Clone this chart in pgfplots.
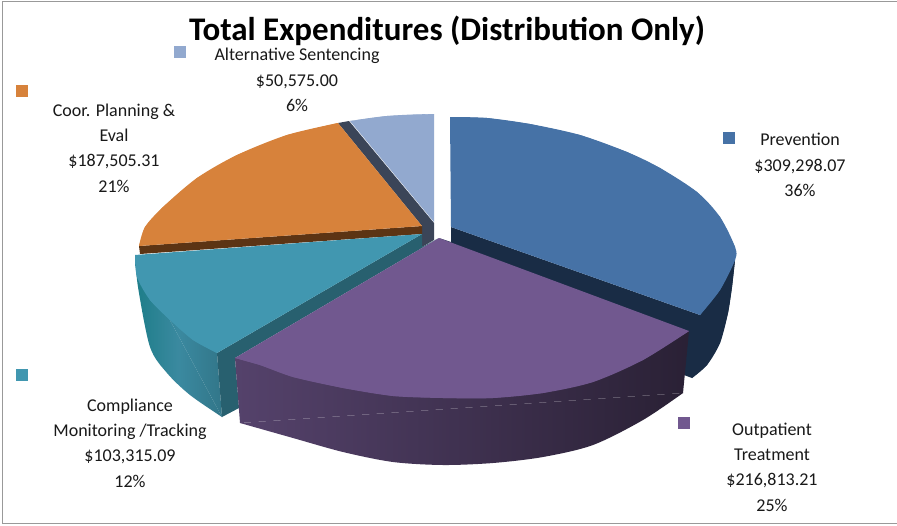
\documentclass[border=0pt]{standalone}
\usepackage{pgfplots}
\pgfplotsset{compat=1.18}
\usepackage{fontspec}
\setmainfont{Carlito}
\definecolor{cblue}{HTML}{4672A6}
\definecolor{dblue}{HTML}{192C45}
\definecolor{cpurple}{HTML}{71588F}
\definecolor{cteal}{HTML}{4197B0}
\definecolor{dteal}{HTML}{28606F}
\definecolor{corange}{HTML}{D7823B}
\definecolor{dorange}{HTML}{5C3414}
\definecolor{clight}{HTML}{92A9CF}
\definecolor{dlight}{HTML}{3B4558}
\begin{document}
\begin{tikzpicture}
\begin{axis}[width=897pt,height=525pt,scale only axis,axis lines=none,
  xmin=0,xmax=897,ymin=0,ymax=525,y dir=reverse,clip=true,
  every axis plot/.append style={line width=0pt,draw=none,mark=none}]
% frame
\addplot[fill=white] coordinates {(0,0)(897,0)(897,525)(0,525)} --cycle;
\addplot[draw=gray!80,line width=1pt] coordinates {(897,1.5)(2.5,1.5)(2.5,523.5)(897,523.5)};
% light blue slice
\addplot[fill=dlight] coordinates {(349,121)(434,223)(434,240)(422,247)(422,226)(338,123)} --cycle;
\addplot[fill=clight] coordinates {(350,121)(387,116)(434,114)(434,222)} --cycle;
\addplot[fill=clight,smooth] coordinates {(350,121)(370,118)(387,116)(410,114.6)(434,114)};
% orange slice
\addplot[fill=dorange] coordinates {(139,246)(422,226)(422,234)(140,254)} --cycle;
\addplot[fill=corange] coordinates {(422,226)(338,123)(287,135)(237,155)(197,178)(163,207)(145,227)(139,246)} --cycle;
\addplot[fill=corange,smooth] coordinates {(338,123)(287,135)(237,155)(197,178)(163,207)(145,227)(139,246)};
% teal slice
\addplot[left color=teal!50!cteal!90!black,right color=dteal!60!cteal,middle color=dteal!25!cteal] coordinates {(135,255)(217,353)(222,417)} --cycle;
\addplot[left color=teal!50!cteal!90!black,right color=dteal!60!cteal,middle color=dteal!25!cteal,smooth] coordinates {(135,255)(138,287)(150,347)(167,373)(190,395)(222,417)};
\addplot[fill=dteal] coordinates {(217,353)(222,417)(239,408)(235,358)(439,238)(422,247)(422,234)} --cycle;
\addplot[fill=cteal] coordinates {(422,234)(135,255)(137,277)(150,300)(170,320)(193,340)(217,353)} --cycle;
\addplot[fill=cteal,smooth] coordinates {(135,255)(137,277)(150,300)(170,320)(193,340)(217,353)};
% blue slice
\addplot[fill=dblue] coordinates {(451,227)(451,242)(439,238)(684,375)(692,378)(707,365)(720,343)(728,313)(732,287)(735,260)(700,315)} --cycle;
\addplot[fill=dblue,smooth] coordinates {(735,260)(732,287)(728,313)(720,343)(707,365)(692,378)};
\addplot[fill=cblue] coordinates {(451,227)(450,117)(487,118)(530,124)(580,135)(627,152)(660,168)(697,192)(720,217)(735,247)(735,260)(720,290)(700,315)} --cycle;
\addplot[fill=cblue,smooth] coordinates {(450,117)(487,118)(530,124)(580,135)(627,152)(660,168)(697,192)(720,217)(735,247)(735,260)(720,290)(700,315)};
% purple slice
\addplot[left color=cpurple!75!black,middle color=cpurple!52!black,right color=cpurple!37!black] coordinates {(235,358)(689,331)(683,393)(240,423)} --cycle;
\addplot[left color=cpurple!75!black,middle color=cpurple!52!black,right color=cpurple!37!black,smooth] coordinates {(240,423)(293,438)(343,452)(393,462)(443,465)(493,463)(543,457)(593,445)(643,420)(683,393)};
\addplot[fill=cpurple] coordinates {(439,238)(689,331)(643,360)(593,382)(543,393)(493,398)(443,398)(393,396)(343,388)(293,377)(260,365)(235,358)} --cycle;
\addplot[fill=cpurple,smooth] coordinates {(689,331)(643,360)(593,382)(543,393)(493,398)(443,398)(393,396)(343,388)(293,377)(260,365)(235,358)};
% legend keys
\addplot[fill=cblue] coordinates {(723,132)(735,132)(735,144)(723,144)} --cycle;
\addplot[fill=cpurple] coordinates {(678,417)(690,417)(690,429)(678,429)} --cycle;
\addplot[fill=cteal] coordinates {(16,369)(28,369)(28,381)(16,381)} --cycle;
\addplot[fill=corange] coordinates {(16,85)(28,85)(28,97)(16,97)} --cycle;
\addplot[fill=clight] coordinates {(174,46)(186,46)(186,58)(174,58)} --cycle;
% text
\tikzset{lab/.style={align=center,inner sep=0pt,font=\fontsize{18}{25.3}\selectfont,text=black!90}}
\node[lab] at (axis cs:800,165) {Prevention\\\$309,298.07\\36\%};
\node[lab] at (axis cs:297,80) {Alternative Sentencing\\\$50,575.00\\6\%};
\node[lab] at (axis cs:114,148) {Coor. Planning \&\\Eval\\\$187,505.31\\21\%};
\node[lab] at (axis cs:130,443) {Compliance\\Monitoring /Tracking\\\$103,315.09\\12\%};
\node[lab] at (axis cs:772,467) {Outpatient\\Treatment\\\$216,813.21\\25\%};
\node[inner sep=0pt,font=\fontsize{33}{36}\selectfont\bfseries] at (axis cs:447,31) {Total Expenditures (Distribution Only)};
\end{axis}
\end{tikzpicture}
\end{document}
